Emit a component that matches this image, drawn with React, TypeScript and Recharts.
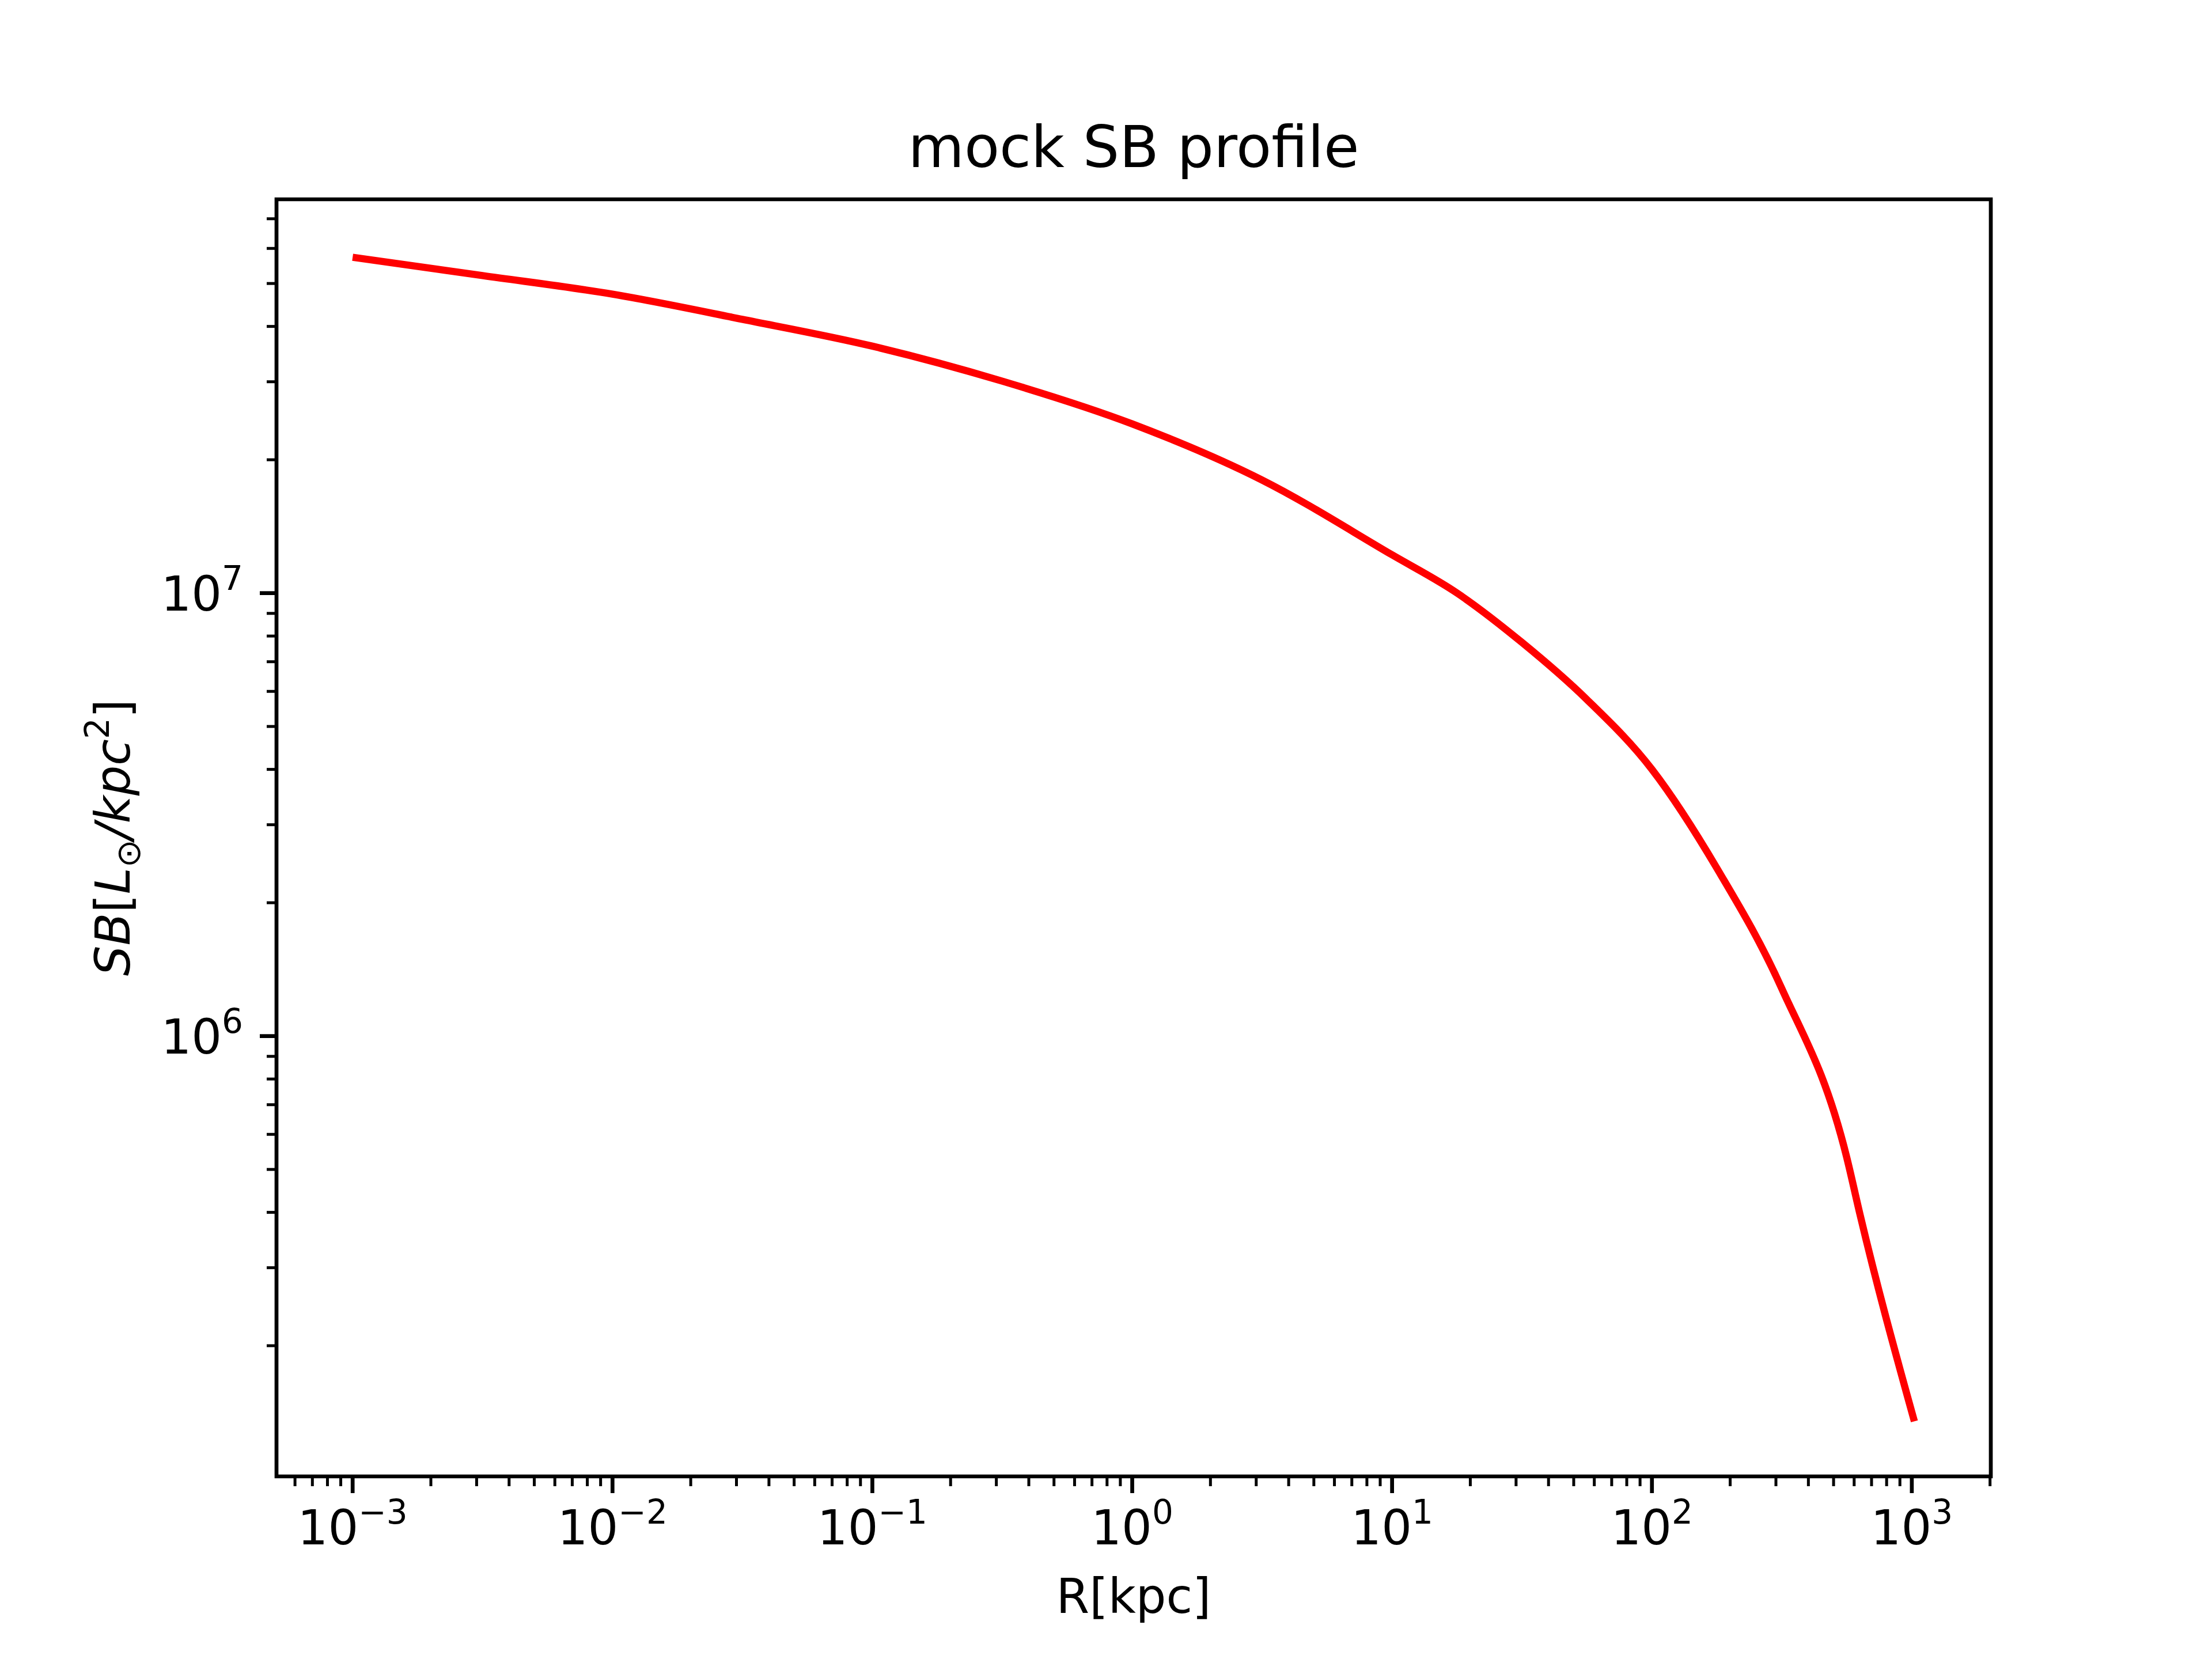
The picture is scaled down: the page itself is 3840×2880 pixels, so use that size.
import React from "react";
import { LineChart, Line, XAxis, YAxis, ReferenceArea } from "recharts";

const radiusKpc = [0.001, 0.00316, 0.01, 0.0316, 0.1, 0.316, 1, 3.16, 10, 17.8, 31.6, 56.2, 100, 178, 316, 562, 631, 1023];
const surfaceBrightness = [5.73e7, 5.21e7, 4.73e7, 4.15e7, 3.61e7, 3.01e7, 2.41e7, 1.8e7, 1.22e7, 1.0e7, 7.74e6, 5.75e6, 4.0e6, 2.39e6, 1.28e6, 5.32e5, 3.97e5, 1.35e5];
const xMajorExps = [-3, -2, -1, 0, 1, 2, 3];
const yMajorExps = [6, 7];
const xDomain: [number, number] = [-3.293, 3.304];
const yDomain: [number, number] = [5.006, 7.889];

const data = radiusKpc.map((r, i) => ({ lr: Math.log10(r), ls: Math.log10(surfaceBrightness[i]) }));

function buildTicks(dom: [number, number]) {
  const t: number[] = [];
  for (let n = -6; n <= 9; n++) {
    for (let k = 1; k <= 9; k++) {
      const v = n + Math.log10(k);
      if (v >= dom[0] && v <= dom[1]) t.push(v);
    }
  }
  return t;
}
const xTicks = buildTicks(xDomain);
const yTicks = buildTicks(yDomain);
const isMajor = (v: number) => Math.abs(v - Math.round(v)) < 1e-9;
const FONT = "DejaVu Sans, sans-serif";
const minus = (n: number) => (n < 0 ? "\u2212" + Math.abs(n) : String(n));

const XTick = (p: any) => {
  const { x, y, payload } = p;
  const v = payload.value;
  const maj = isMajor(v);
  return (
    <g>
      <line x1={x} x2={x} y1={y} y2={y + (maj ? 29 : 17)} stroke="#000" strokeWidth={maj ? 6.7 : 5} />
      {maj && (
        <text x={x} y={y + 118} textAnchor="middle" fontFamily={FONT} fontSize={83} fill="#000">
          10<tspan dy={-36} fontSize={58}>{minus(Math.round(v))}</tspan>
        </text>
      )}
    </g>
  );
};

const YTick = (p: any) => {
  const { x, y, payload } = p;
  const v = payload.value;
  const maj = isMajor(v);
  return (
    <g>
      <line x1={x} x2={x - (maj ? 29 : 17)} y1={y} y2={y} stroke="#000" strokeWidth={maj ? 6.7 : 5} />
      {maj && (
        <text x={x - 58} y={y + 30} textAnchor="end" fontFamily={FONT} fontSize={83} fill="#000">
          10<tspan dy={-36} fontSize={58}>{minus(Math.round(v))}</tspan>
        </text>
      )}
    </g>
  );
};

export default function App() {
  return (
    <div style={{ position: "absolute", left: 0, top: 0, width: 3840, height: 2880, background: "#fff" }}>
      <LineChart width={3840} height={2880} data={data} margin={{ top: 346, right: 384, bottom: 167, left: 280 }}>
        <XAxis dataKey="lr" type="number" domain={xDomain} ticks={xTicks} allowDataOverflow interval={0}
          tick={<XTick />} tickLine={false} tickSize={0} tickMargin={0} height={150} axisLine={false} />
        <YAxis dataKey="ls" type="number" domain={yDomain} ticks={yTicks} allowDataOverflow interval={0}
          tick={<YTick />} tickLine={false} tickSize={0} tickMargin={0} width={200} axisLine={false} />
        <Line dataKey="ls" type="monotone" stroke="#ff0000" strokeWidth={12.5} dot={false} isAnimationActive={false} />
        <ReferenceArea x1={xDomain[0]} x2={xDomain[1]} y1={yDomain[0]} y2={yDomain[1]} fill="none" fillOpacity={0}
          stroke="#000" strokeWidth={6.7} ifOverflow="visible" />
      </LineChart>
      <svg width={3840} height={2880} style={{ position: "absolute", left: 0, top: 0, pointerEvents: "none" }}>
        <text x={1968} y={290} textAnchor="middle" fontFamily={FONT} fontSize={100} fill="#000">mock SB profile</text>
        <text x={1968} y={2800} textAnchor="middle" fontFamily={FONT} fontSize={83} fill="#000">R[kpc]</text>
        <text x={225} y={1454} textAnchor="middle" fontFamily={FONT} fontSize={83} fill="#000" transform="rotate(-90 225 1454)">
          <tspan fontStyle="italic">SB</tspan>[<tspan fontStyle="italic">L</tspan>
          <tspan dy={18} fontSize={58}>⊙</tspan>
          <tspan dy={-18} fontStyle="italic">/kpc</tspan>
          <tspan dy={-36} fontSize={58}>2</tspan>
          <tspan dy={36}>]</tspan>
        </text>
      </svg>
    </div>
  );
}
